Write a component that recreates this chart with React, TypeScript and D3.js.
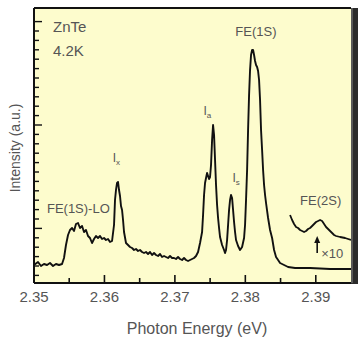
import React from 'react'
import * as d3 from 'd3'

// photon energy (eV) / intensity (a.u.) of the PL spectrum
const energy = [
  2.35, 2.35057, 2.35099, 2.35142, 2.35185, 2.35227, 2.3527, 2.35312, 2.35355, 2.35398,
  2.35426, 2.35454, 2.35483, 2.35511, 2.3554, 2.35568, 2.35596, 2.35625, 2.35653, 2.35682,
  2.3571, 2.35738, 2.35767, 2.35795, 2.35824, 2.35852, 2.3588, 2.35909, 2.35937, 2.35966,
  2.35994, 2.36022, 2.36051, 2.36079, 2.36108, 2.36136, 2.3615, 2.36164, 2.36179, 2.36193,
  2.36207, 2.36221, 2.36235, 2.3625, 2.36264, 2.36278, 2.36306, 2.36335, 2.36363, 2.36392,
  2.3642, 2.36448, 2.36477, 2.36505, 2.36534, 2.36562, 2.3659, 2.36619, 2.36647, 2.36676,
  2.36704, 2.36732, 2.36761, 2.36789, 2.36818, 2.36846, 2.36874, 2.36903, 2.36931, 2.3696,
  2.36988, 2.37016, 2.37045, 2.37073, 2.37102, 2.3713, 2.37158, 2.37187, 2.37215, 2.37244,
  2.37272, 2.373, 2.37329, 2.37357, 2.37386, 2.374, 2.37414, 2.37428, 2.37442, 2.37457,
  2.37471, 2.37485, 2.37499, 2.37513, 2.37528, 2.37542, 2.37556, 2.3757, 2.37584, 2.37599,
  2.37613, 2.37627, 2.37641, 2.3767, 2.37698, 2.37712, 2.37726, 2.37741, 2.37755, 2.37769,
  2.37783, 2.37797, 2.37812, 2.37826, 2.3784, 2.37854, 2.37868, 2.37897, 2.37925, 2.37954,
  2.37982, 2.37996, 2.3801, 2.38025, 2.38039, 2.38053, 2.38067, 2.38081, 2.38096, 2.3811,
  2.38124, 2.38138, 2.38152, 2.38167, 2.38181, 2.38195, 2.38209, 2.38223, 2.38238, 2.38252,
  2.38266, 2.3828, 2.38294, 2.38323, 2.38351, 2.3838, 2.38408, 2.38436, 2.38465, 2.38493,
  2.3855, 2.38607, 2.38706, 2.38919, 2.39203, 2.395,
]
const intensity = [
  18, 21, 17, 19, 18, 20, 17, 19, 18, 19,
  25, 38, 48, 53, 55, 52, 59, 60, 55, 57,
  51, 53, 47, 45, 40, 44, 47, 45, 47, 44,
  45, 43, 44, 41, 42, 58, 83, 93, 100, 101,
  93, 87, 77, 73, 63, 51, 40, 38, 36, 35,
  33, 34, 32, 33, 31, 30, 31, 29, 31, 28,
  30, 28, 27, 29, 26, 27, 26, 25, 27, 25,
  25, 24, 26, 24, 23, 25, 23, 22, 23, 24,
  25, 27, 31, 40, 51, 68, 88, 100, 105, 110,
  107, 104, 106, 118, 143, 158, 148, 123, 98, 78,
  65, 55, 46, 38, 33, 30, 33, 43, 58, 73,
  83, 88, 85, 73, 61, 51, 43, 37, 33, 36,
  45, 58, 83, 113, 153, 188, 213, 228, 233, 233,
  228, 222, 218, 216, 212, 203, 183, 153, 133, 113,
  98, 88, 80, 65, 53, 45, 33, 26, 23, 20,
  18, 16, 15, 15, 14, 14,
]

// FE(2S) region magnified x10
const energyX10 = [
  2.38635, 2.38664, 2.38692, 2.3872, 2.38749, 2.38777, 2.38806, 2.38834, 2.38862, 2.38891,
  2.38919, 2.38948, 2.38976, 2.39004, 2.39033, 2.39061, 2.3909, 2.39118, 2.39146, 2.39175,
  2.39203, 2.39232, 2.3926, 2.39288, 2.39345, 2.39416, 2.395,
]
const intensityX10 = [
  68, 63, 59, 56, 55, 53, 52, 51, 52, 54,
  55, 57, 59, 61, 62, 63, 62, 59, 56, 54,
  52, 50, 48, 47, 46, 45, 43,
]

const xTicks = [2.35, 2.36, 2.37, 2.38, 2.39]
const xMinorTicks = [2.355, 2.365, 2.375, 2.385]

// peak labels: [text, subscript, energy, intensity]
const peakLabels: [string, string, number, number][] = [
  ['FE(1S)', '', 2.3815, 247],
  ['I', 'a', 2.3746, 168],
  ['I', 'x', 2.3617, 121],
  ['I', 's', 2.3787, 101],
  ['FE(1S)-LO', '', 2.3563, 70],
  ['FE(2S)', '', 2.3907, 78],
]

const W = 358
const H = 340
const m = { left: 34, top: 8, right: 351, bottom: 283 }
const textCol = '#555'
const font = 'Liberation Sans, Arial, sans-serif'

export default function App() {
  const x = d3.scaleLinear().domain([2.35, 2.395]).range([m.left, m.right])
  const y = d3.scaleLinear().domain([0, 275]).range([m.bottom, m.top])

  const line = d3.line<number>()
    .x((d, i) => x(energy[i]))
    .y(d => y(d))
  const lineX10 = d3.line<number>()
    .x((d, i) => x(energyX10[i]))
    .y(d => y(d))

  const yTicks = d3.range(-16, 12).map(k => 158 + k * 9.4).filter(v => v > 2 && v < 273)

  const arrowE = 2.3902

  return (
    <svg width={W} height={H} style={{ position: 'absolute', left: 0, top: 0 }}>
      <rect x={0} y={0} width={W} height={H} fill="#fff" />
      <rect x={m.left} y={m.top} width={m.right - m.left} height={m.bottom - m.top} fill="#fdfccd" />
      {/* dark right edge */}
      <rect x={m.right} y={m.top} width={W - m.right} height={m.bottom - m.top + 1} fill="#2b2b2b" />
      <line x1={m.right + 1} x2={m.right + 1} y1={m.top} y2={m.bottom} stroke="#888" strokeWidth={1} />

      <defs>
        <clipPath id="plot">
          <rect x={m.left} y={m.top} width={m.right - m.left} height={m.bottom - m.top} />
        </clipPath>
      </defs>

      <g clipPath="url(#plot)">
        <path d={line(intensity) || ''} fill="none" stroke="#111" strokeWidth={1.9} strokeLinejoin="round" />
        <path d={lineX10(intensityX10) || ''} fill="none" stroke="#111" strokeWidth={1.8} strokeLinejoin="round" />
      </g>

      {/* frame */}
      <line x1={m.left} x2={m.right} y1={m.top} y2={m.top} stroke="#111" strokeWidth={2} />
      <line x1={m.left} x2={m.left} y1={m.top} y2={m.bottom} stroke="#111" strokeWidth={2} />
      <line x1={m.left} x2={m.right} y1={m.bottom} y2={m.bottom} stroke="#111" strokeWidth={2} />

      {xTicks.map(t => (
        <g key={t}>
          <line x1={x(t)} x2={x(t)} y1={m.bottom} y2={m.bottom - 8} stroke="#111" strokeWidth={1.6} />
          <text x={x(t)} y={m.bottom + 19} textAnchor="middle" fontSize={15} fill={textCol} fontFamily={font}>
            {t.toFixed(2)}
          </text>
        </g>
      ))}
      {xMinorTicks.map(t => (
        <line key={t} x1={x(t)} x2={x(t)} y1={m.bottom} y2={m.bottom - 5} stroke="#111" strokeWidth={1.6} />
      ))}
      {yTicks.map((t, i) => (
        <line key={i} x1={m.left} x2={m.left + (Math.round((t - 158) / 9.4) % 11 === 0 ? 8 : 5)}
          y1={y(t)} y2={y(t)} stroke="#111" strokeWidth={1.4} />
      ))}

      <text x={m.left + 19} y={32} fontSize={15} fill={textCol} fontFamily={font}>ZnTe</text>
      <text x={m.left + 19} y={56} fontSize={15} fill={textCol} fontFamily={font}>4.2K</text>

      {peakLabels.map(([t, sub, e, v]) => (
        <text key={t + sub} x={x(e)} y={y(v)} textAnchor="middle" fontSize={sub ? 12 : 13} fill={textCol} fontFamily={font}>
          {t}
          {sub && <tspan fontSize={8} dy={3}>{sub}</tspan>}
        </text>
      ))}

      {/* x10 arrow */}
      <line x1={x(arrowE)} x2={x(arrowE)} y1={y(30)} y2={y(44)} stroke="#111" strokeWidth={1.6} />
      <path d={`M${x(arrowE) - 3},${y(40)} L${x(arrowE)},${y(47)} L${x(arrowE) + 3},${y(40)} Z`} fill="#111" />
      <text x={x(arrowE) + 4} y={y(25)} fontSize={13} fill={textCol} fontFamily={font}>×10</text>

      <text x={197} y={334} textAnchor="middle" fontSize={16} fill={textCol} fontFamily={font}>Photon Energy (eV)</text>
      <text transform="translate(20,148) rotate(-90)" textAnchor="middle" fontSize={14} fill={textCol} fontFamily={font}>
        Intensity (a.u.)
      </text>
    </svg>
  )
}
